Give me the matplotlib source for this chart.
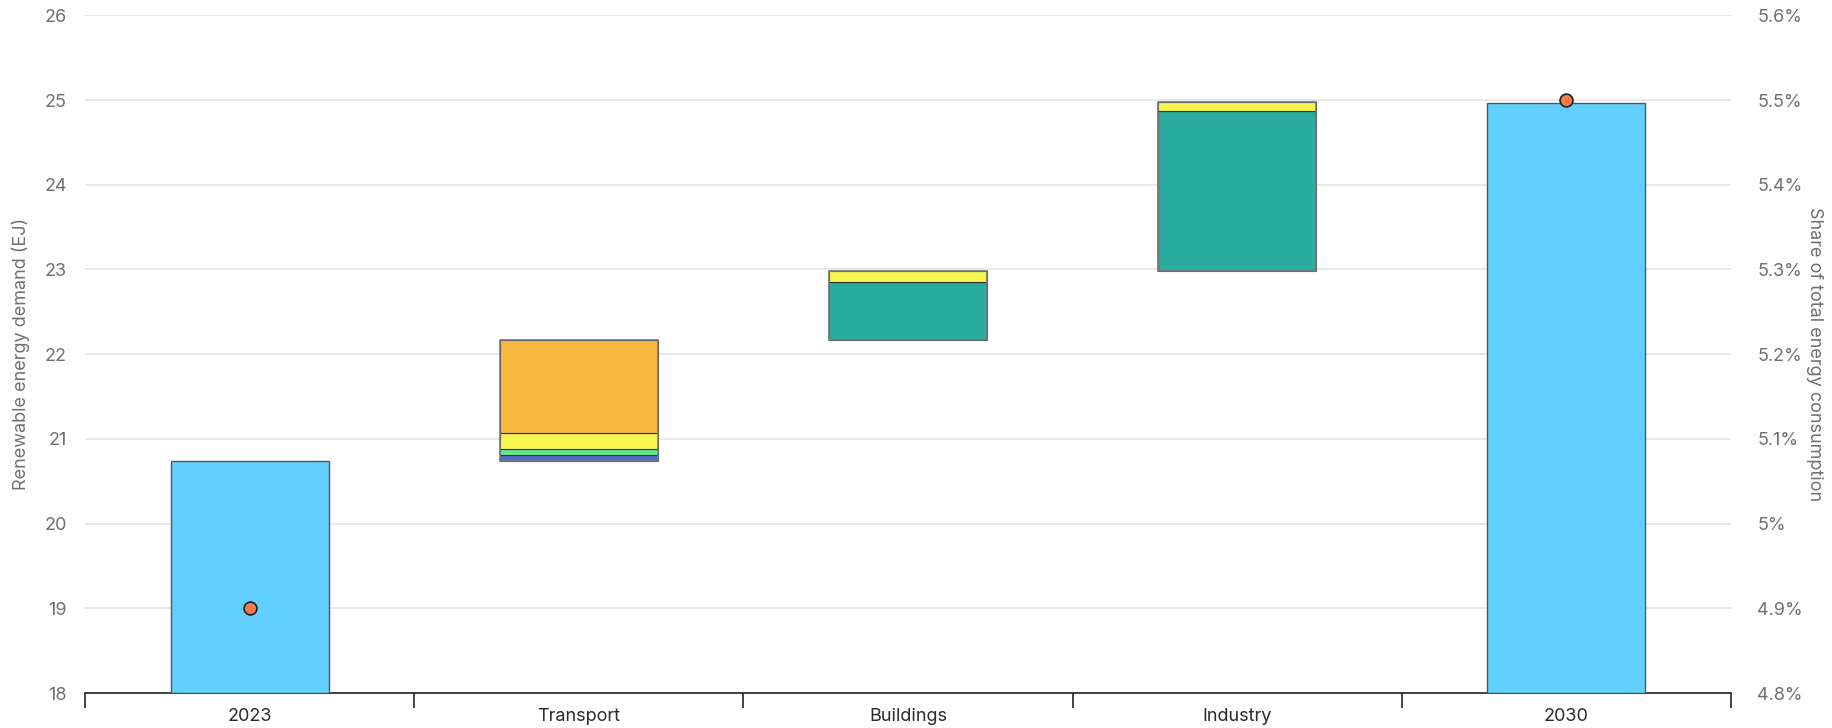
import matplotlib
matplotlib.use("Agg")
import matplotlib.pyplot as plt
from matplotlib.ticker import FuncFormatter, FixedLocator

plt.rcParams['font.family'] = ['Inter', 'DejaVu Sans']

categories = ["2023", "Transport", "Buildings", "Industry", "2030"]

# Totals (EJ)
total_2023 = 20.735
total_2030 = 24.97

# Incremental contributions per sector (EJ), stacked bottom to top
transport_parts = [0.071, 0.079, 0.186, 1.096]
transport_colors = ["#4a6fd0", "#66e888", "#f8f550", "#f7b740"]
buildings_parts = [0.683, 0.130]
buildings_colors = ["#2aac9f", "#f8f550"]
industry_parts = [1.886, 0.114]
industry_colors = ["#2aac9f", "#f8f550"]

# Share of total energy consumption (%)
share_values = [4.90, 5.50]
share_positions = [0, 4]

total_color = "#61cfff"
edge_color = "#555555"
dot_color = "#f47a4a"
text_color = "#707070"

fig = plt.figure(figsize=(18.33, 7.28), dpi=100)
ax = fig.add_axes([0.0464, 0.048, 0.8980, 0.931])

width = 0.48
ax.bar(0, total_2023 - 18, bottom=18, width=width, color=total_color,
       edgecolor=edge_color, linewidth=1, zorder=3)
ax.bar(4, total_2030 - 18, bottom=18, width=width, color=total_color,
       edgecolor=edge_color, linewidth=1, zorder=3)

base = total_2023
for x, parts, cols in [(1, transport_parts, transport_colors),
                       (2, buildings_parts, buildings_colors),
                       (3, industry_parts, industry_colors)]:
    start = base
    for h, c in zip(parts, cols):
        ax.bar(x, h, bottom=base, width=width, color=c,
               edgecolor="#333333", linewidth=0.8, zorder=3)
        base += h
    # outline of the whole sector block
    ax.bar(x, base - start, bottom=start, width=width, color="none",
           edgecolor="#777777", linewidth=1.2, zorder=4)

ax.set_xlim(-0.5, 4.5)
ax.set_ylim(18, 26)
ax.set_yticks(range(18, 27))
ax.yaxis.grid(True, color="#e4e4e4", linewidth=1.2, zorder=0)
ax.set_axisbelow(True)

ax.xaxis.set_major_locator(FixedLocator([-0.5, 0.5, 1.5, 2.5, 3.5, 4.5]))
ax.xaxis.set_minor_locator(FixedLocator(range(5)))
ax.set_xticklabels([], minor=False)
ax.set_xticklabels(categories, minor=True)
ax.tick_params(axis="x", which="major", length=11, width=1.2, color="#222222")
ax.tick_params(axis="x", which="minor", length=0, pad=11, labelsize=13,
               labelcolor="#2a2a2a")
ax.tick_params(axis="y", length=0, pad=13, labelsize=13, labelcolor=text_color)

for s in ["left", "right", "top"]:
    ax.spines[s].set_visible(False)
ax.spines["bottom"].set_color("#222222")
ax.spines["bottom"].set_linewidth(1.2)

ax.set_ylabel("Renewable energy demand (EJ)", fontsize=13, color=text_color,
              labelpad=10)

ax2 = ax.twinx()
ax2.set_ylim(4.8, 5.6)
ax2.set_yticks([4.8, 4.9, 5.0, 5.1, 5.2, 5.3, 5.4, 5.5, 5.6])
ax2.yaxis.set_major_formatter(FuncFormatter(lambda v, p: f"{v:.1f}".rstrip("0").rstrip(".") + "%"))
ax2.tick_params(axis="y", length=0, pad=19, labelsize=13, labelcolor=text_color)
for s in ["left", "right", "top", "bottom"]:
    ax2.spines[s].set_visible(False)
ax2.set_ylabel("Share of total energy consumption", fontsize=13,
               color=text_color, rotation=270, labelpad=14)
ax2.scatter(share_positions, share_values, s=85, color=dot_color,
            edgecolor="#222222", linewidth=1.2, zorder=5, clip_on=False)

fig.savefig("out.png", dpi=100)
